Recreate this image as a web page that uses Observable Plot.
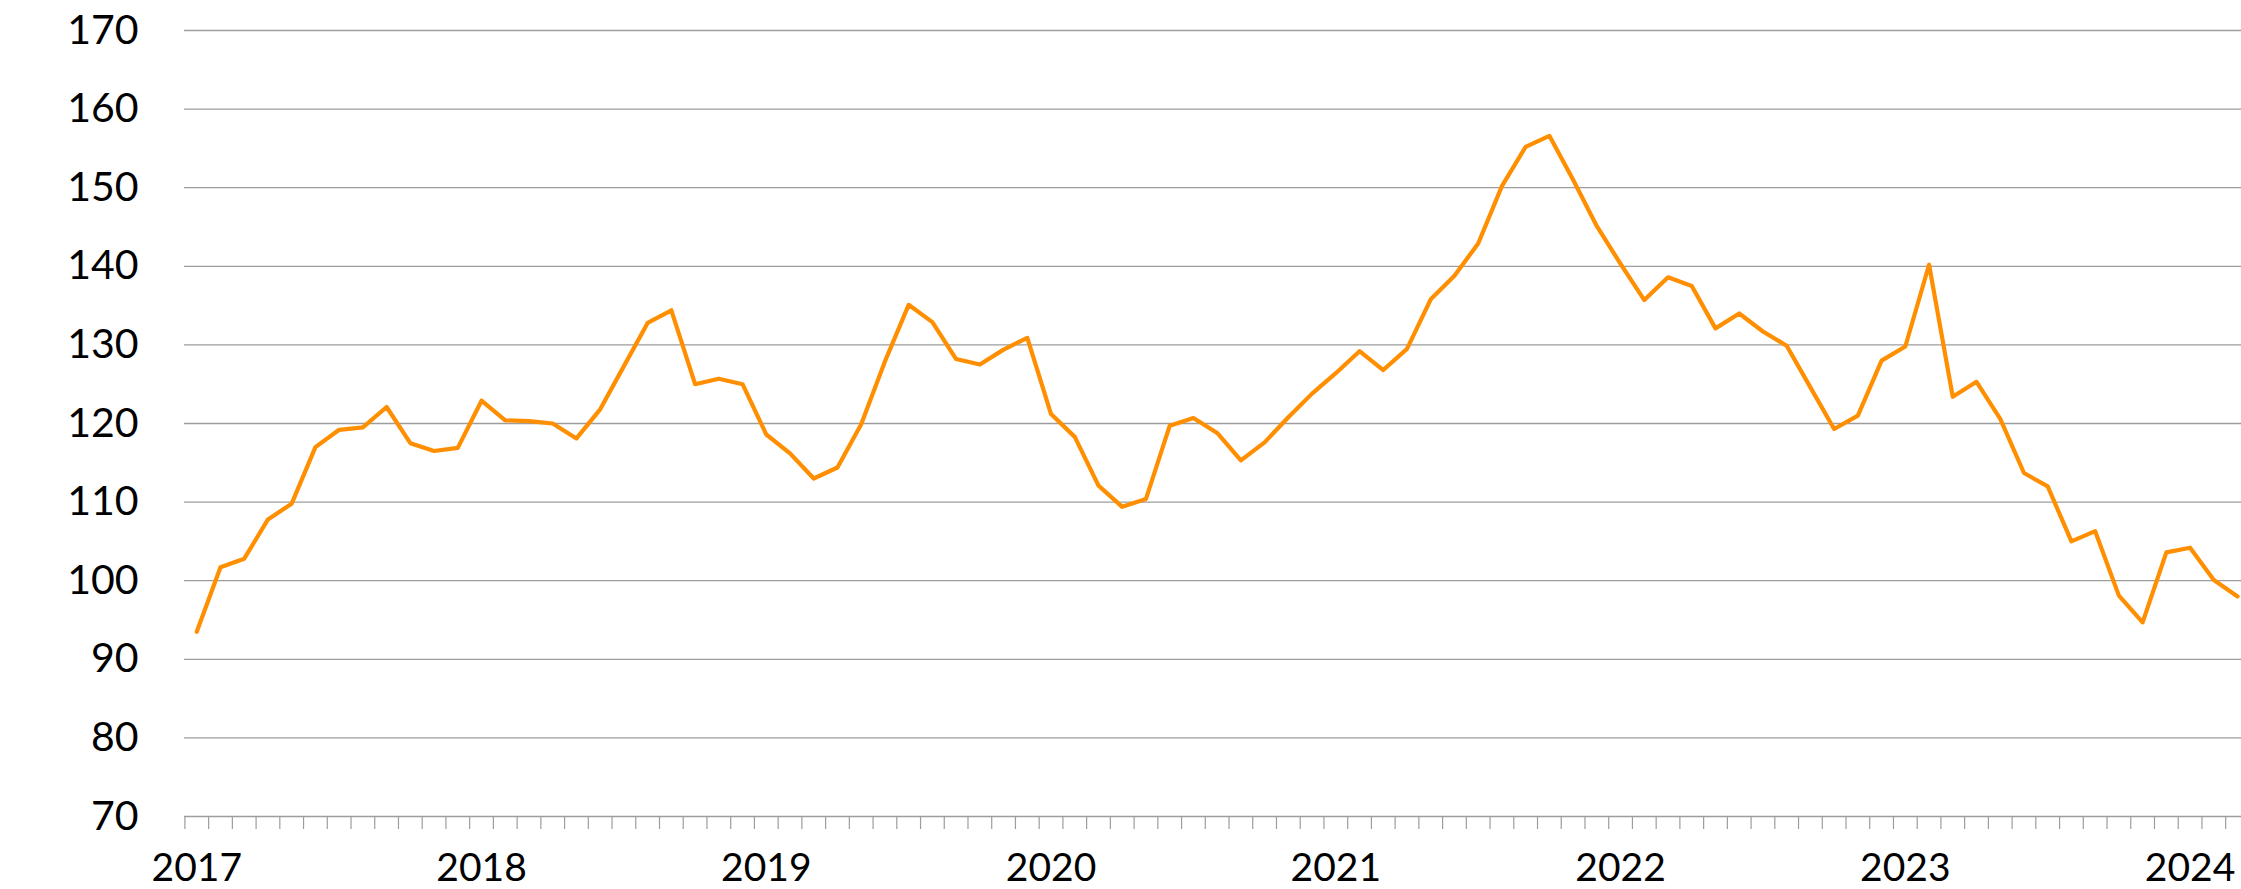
<!DOCTYPE html>
<html>
<head>
<meta charset="utf-8">
<script src="https://cdn.jsdelivr.net/npm/d3@7"></script>
<script src="https://cdn.jsdelivr.net/npm/@observablehq/plot@0.6"></script>
<style>
  html, body { margin: 0; padding: 0; background: #ffffff; }
  #chart svg { display: block; }
</style>
</head>
<body>
<div id="chart"></div>
<script>
// Monthly series, January 2017 … March 2024 (one value per month)
const yearLabels = ["2017", "2018", "2019", "2020", "2021", "2022", "2023", "2024"];
const yTicks = [70, 80, 90, 100, 110, 120, 130, 140, 150, 160, 170];
const values = [
  93.5, 101.7, 102.8, 107.8, 109.8, 117.0, 119.2, 119.5, 122.1, 117.5, 116.5, 116.9,   // 2017
  122.9, 120.4, 120.3, 120.0, 118.1, 121.8, 127.3, 132.8, 134.4, 125.0, 125.7, 125.0,   // 2018
  118.6, 116.2, 113.0, 114.4, 119.9, 127.9, 135.1, 132.9, 128.2, 127.5, 129.4, 130.9,   // 2019
  121.2, 118.3, 112.1, 109.4, 110.4, 119.7, 120.7, 118.8, 115.3, 117.6, 120.8, 123.8,   // 2020
  126.4, 129.2, 126.8, 129.5, 135.8, 138.8, 142.9, 150.2, 155.2, 156.6, 151.0, 145.1,   // 2021
  140.3, 135.7, 138.6, 137.5, 132.1, 134.0, 131.7, 129.9, 124.6, 119.3, 121.0, 128.0,   // 2022
  129.8, 140.2, 123.4, 125.3, 120.6, 113.7, 112.0, 105.0, 106.3, 98.1, 94.7, 103.6,     // 2023
  104.2, 100.1, 98.0                                                                    // 2024
];

const data = values.map((v, i) => ({ i, v }));
const monthEdges = d3.range(values.length + 1).map(k => k - 0.5);
const yearPositions = yearLabels.map((_, j) => j * 12);

const monthWidth = 23.73;
const x0 = 184.4;

const chart = Plot.plot({
  width: 2241,
  height: 889,
  marginLeft: 184,
  marginRight: 0,
  marginTop: 30,
  marginBottom: 73,
  style: { fontFamily: "Lato, 'Open Sans', sans-serif", fontSize: "40px", color: "#000", background: "#fff" },
  x: { type: "linear", domain: [-0.5, values.length - 0.5], range: [x0, x0 + values.length * monthWidth] },
  y: { domain: [70, 170] },
  marks: [
    Plot.ruleY(yTicks, { stroke: "#9d9d9d", strokeWidth: 1.3 }),
    Plot.axisX({ ticks: monthEdges, tickSize: 13, tickFormat: () => "", label: null, stroke: "#9d9d9d", strokeWidth: 1.2, strokeOpacity: 1 }),
    Plot.axisX({ ticks: yearPositions, tickSize: 0, tickPadding: 37, tickFormat: d => yearLabels[d / 12], label: null, fontSize: 39, fill: "#000", letterSpacing: "-1px" }),
    Plot.axisY({ ticks: yTicks, tickSize: 0, tickPadding: 46, tickFormat: d => String(d), label: null, fontSize: 41, fill: "#000", letterSpacing: "-1px" }),
    Plot.line(data, { x: "i", y: "v", stroke: "#ff8f00", strokeWidth: 4.2 })
  ]
});

document.getElementById("chart").appendChild(chart);
</script>
</body>
</html>
